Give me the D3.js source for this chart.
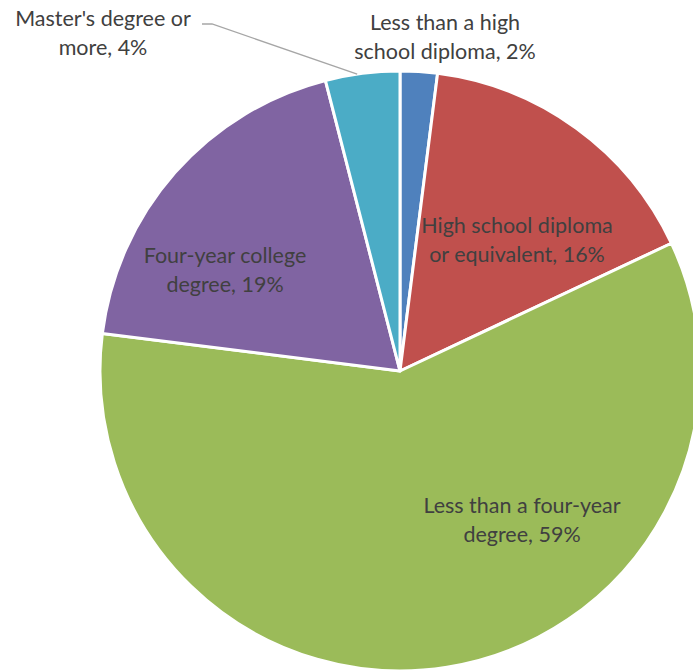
<!DOCTYPE html>
<html>
<head>
<meta charset="utf-8">
<script src="https://cdn.jsdelivr.net/npm/d3@7"></script>
<style>
  html, body { margin: 0; padding: 0; background: #ffffff; }
  svg { display: block; }
  text { font-family: Lato, "Open Sans", sans-serif; fill: #404040; }
</style>
</head>
<body>
<svg id="chart" width="693" height="670"></svg>
<script>
// Educational attainment shares (percent)
const categories = [
  "Less than a high school diploma",
  "High school diploma or equivalent",
  "Less than a four-year degree",
  "Four-year college degree",
  "Master's degree or more"
];
const values = [2, 16, 59, 19, 4];
const colors = ["#4F81BD", "#C0504D", "#9BBB59", "#8064A2", "#4BACC6"];
const labelLines = [
  ["Less than a high", "school diploma, 2%"],
  ["High school diploma", "or equivalent, 16%"],
  ["Less than a four-year", "degree, 59%"],
  ["Four-year college", "degree, 19%"],
  ["Master's degree or", "more, 4%"]
];

const svg = d3.select("#chart");
const cx = 400, cy = 371, radius = 300;

const data = categories.map((c, i) => ({ name: c, value: values[i], color: colors[i], lines: labelLines[i] }));

const pie = d3.pie().value(d => d.value).sort(null);
const arcs = pie(data);
const arc = d3.arc().innerRadius(0).outerRadius(radius);

const g = svg.append("g").attr("transform", `translate(${cx},${cy})`);

g.selectAll("path.slice")
  .data(arcs)
  .join("path")
  .attr("class", "slice")
  .attr("d", arc)
  .attr("fill", d => d.data.color)
  .attr("stroke", "#ffffff")
  .attr("stroke-width", 3)
  .attr("stroke-linejoin", "round");

// Label anchor points (first-line baseline, relative to pie centre)
const labelPos = [
  { x: 45, y: -341 },    // outside, above the thin blue slice
  { x: 117, y: -138 },
  { x: 122, y: 142 },
  { x: -175, y: -108 },
  { x: -297, y: -345 }   // outside, with leader line
];
const lineHeight = 28.5;
const fontSize = 21.5;

const labels = g.selectAll("text.lbl")
  .data(arcs)
  .join("text")
  .attr("class", "lbl")
  .attr("text-anchor", "middle")
  .attr("font-size", fontSize)
  .attr("x", (d, i) => labelPos[i].x)
  .attr("y", (d, i) => labelPos[i].y);

labels.each(function(d, i) {
  const t = d3.select(this);
  d.data.lines.forEach((ln, k) => {
    t.append("tspan")
      .attr("x", labelPos[i].x)
      .attr("dy", k === 0 ? 0 : lineHeight)
      .text(ln);
  });
});

// Leader line for the small teal slice
const teal = arcs[4];
const edgeAngle = teal.startAngle + (teal.endAngle - teal.startAngle) * 0.43;
const ex = Math.sin(edgeAngle) * radius;
const ey = -Math.cos(edgeAngle) * radius;
g.append("polyline")
  .attr("points", [[-198, -347], [-188, -347], [ex, ey]].map(p => p.join(",")).join(" "))
  .attr("fill", "none")
  .attr("stroke", "#A6A6A6")
  .attr("stroke-width", 1.3);
</script>
</body>
</html>
